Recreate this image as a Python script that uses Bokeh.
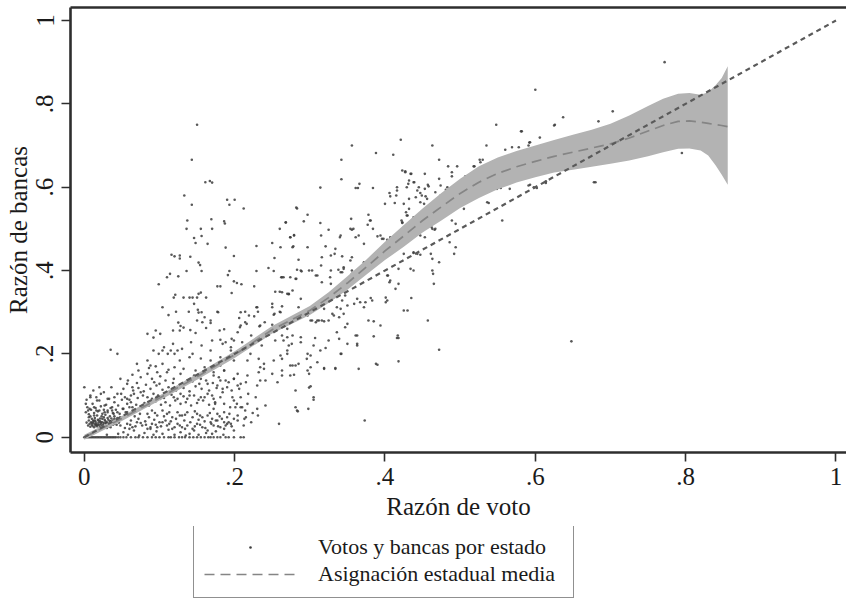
from bokeh.plotting import figure
from bokeh.layouts import column
from bokeh.models import (Range1d, LinearAxis, FixedTicker, Legend, LegendItem,
                          ColumnDataSource, CustomJSTickFormatter)
from bokeh.embed import file_html
from bokeh.resources import INLINE
import numpy as np

# State-level observations, vote share and seat share in thousandths (per mille).
# States that won no seats (seat share = 0)
zero_seat_votes = [0, 2, 4, 6, 8, 10, 12, 14, 16, 18, 20, 22, 24, 26, 28, 30, 32, 34, 36, 38,
                   40, 42, 45, 48, 52, 56, 62, 68, 72, 78, 84, 90, 95, 100, 106, 112, 115, 120,
                   126, 130, 134, 140, 145, 150, 155, 160, 165, 168, 172, 177, 181, 188, 192,
                   199, 208, 212]

# Dense group of small parties close to the origin
origin_cluster = [
    (5, 28), (7, 32), (8, 25), (9, 36), (10, 30), (11, 27), (12, 34), (12, 40), (13, 24), (14, 31),
    (15, 37), (15, 28), (16, 33), (17, 26), (18, 30), (18, 42), (19, 35), (20, 29), (21, 38), (21, 24),
    (22, 32), (23, 27), (24, 36), (24, 44), (25, 30), (26, 34), (27, 26), (28, 39), (29, 31), (30, 36),
    (31, 28), (32, 42), (33, 33), (34, 38), (35, 30), (36, 45), (37, 35), (38, 40), (40, 32), (42, 38),
    (44, 46), (46, 35), (10, 44), (6, 40), (14, 46), (26, 48), (30, 22), (20, 20), (35, 24), (3, 35),
    (8, 50), (17, 52), (28, 54), (40, 50),
    (12, 38), (16, 30), (19, 40), (22, 36), (25, 26), (27, 42), (29, 34), (31, 46), (33, 26), (35, 38),
    (38, 30), (40, 44), (43, 30), (10, 34), (14, 40), (21, 45), (23, 50), (34, 50), (39, 56), (13, 52),
    (6, 48), (5, 64), (16, 64), (27, 60), (37, 64),
    (2, 60), (4, 72), (6, 55), (9, 66), (11, 80), (13, 58), (15, 70), (18, 62), (20, 88), (22, 74),
    (24, 56), (26, 66), (29, 78), (31, 60), (33, 92), (35, 70), (38, 58), (40, 84), (42, 66), (45, 76),
    (47, 56), (50, 90), (52, 68), (55, 60), (57, 80), (60, 72), (62, 100), (3, 90), (8, 100), (16, 96),
    (26, 108), (44, 104), (52, 116), (36, 120), (58, 136), (64, 150), (48, 140), (20, 120), (12, 112),
]

# Low vote shares (below about .22) with low seat shares
low_cloud = [
    (70, 176), (84, 184), (88, 172), (92, 208), (99, 200), (104, 208), (111, 200), (115, 208),
    (120, 200), (124, 208), (127, 184), (140, 192), (144, 200), (155, 189), (168, 184), (181, 192),
    (195, 208), (199, 184), (208, 208), (217, 184),
    (75, 144), (84, 152), (90, 140), (97, 156), (101, 146), (110, 156), (119, 140), (128, 152),
    (137, 136), (146, 148), (155, 140), (164, 128), (172, 148), (181, 136), (190, 120), (199, 140),
    (208, 128), (57, 128), (64, 120), (0, 120), (35, 210), (44, 200),
    (70, 130), (82, 126), (93, 132), (100, 128), (108, 136), (118, 130), (126, 124), (134, 128),
    (144, 134), (153, 128), (162, 136), (171, 130),
    (8, 96), (17, 88), (22, 104), (31, 92), (40, 96), (49, 104), (57, 92), (66, 104),
    (75, 108), (84, 96), (92, 104), (101, 92), (110, 104), (119, 96), (128, 104), (137, 92),
    (146, 100), (155, 96), (164, 104), (172, 92), (181, 96), (199, 88), (208, 96), (217, 80),
    (54, 96), (60, 90), (71, 94), (78, 100), (90, 92), (98, 100), (106, 94), (116, 102), (124, 92),
    (132, 98), (140, 100), (152, 90), (160, 96), (170, 100),
    (2, 80), (7, 68), (13, 72), (20, 64), (27, 76), (31, 64), (37, 72), (44, 60), (51, 68), (57, 60),
    (64, 72), (70, 64), (77, 72), (84, 56), (90, 64), (97, 52), (104, 64), (110, 56), (117, 48),
    (124, 60), (130, 52), (137, 60), (144, 48), (150, 56), (157, 48), (164, 52), (170, 44), (177, 56),
    (183, 44), (190, 48), (199, 44), (208, 72), (215, 48),
    (48, 48), (58, 52), (67, 50), (74, 56), (86, 48), (94, 58), (106, 50), (113, 60), (127, 52),
    (134, 54), (147, 62), (154, 52), (167, 58), (180, 50), (193, 56),
    (57, 32), (64, 24), (70, 36), (77, 28), (84, 20), (90, 32), (97, 24), (104, 36), (110, 28),
    (117, 20), (124, 32), (130, 24), (137, 28), (144, 20), (150, 32), (157, 24), (164, 16), (172, 28),
    (181, 24), (190, 32), (199, 16),
    (48, 28), (54, 22), (61, 30), (68, 26), (75, 34), (82, 30), (88, 24), (95, 30), (102, 26),
    (113, 32), (120, 24), (127, 28), (134, 20), (147, 26), (154, 30), (161, 22), (169, 32), (178, 26),
    (186, 20), (196, 26),
    (52, 12), (66, 16), (80, 10), (96, 14), (112, 18), (128, 12), (146, 16), (162, 10), (175, 14),
    (60, 20), (88, 20), (140, 8),
    (30, 6), (45, 8), (58, 6), (73, 4), (92, 6), (104, 8), (120, 6), (135, 4), (152, 6), (170, 8),
    (185, 6),
    (62, 40), (72, 44), (81, 38), (93, 42), (100, 36), (108, 40), (115, 38), (122, 44), (133, 40),
    (141, 36), (152, 42), (160, 38), (168, 36), (175, 40), (186, 36), (195, 32), (204, 40), (212, 28),
    (222, 36),
    (62, 84), (69, 78), (80, 82), (86, 76), (95, 86), (102, 78), (108, 84), (114, 76), (121, 88),
    (128, 80), (135, 84), (142, 76), (150, 82), (158, 88), (166, 78), (174, 84), (186, 80), (194, 72),
    (203, 80), (214, 64), (224, 58), (231, 52),
    (65, 112), (72, 118), (79, 110), (88, 116), (96, 124), (104, 114), (112, 120), (122, 112),
    (132, 118), (140, 110), (148, 122), (156, 116), (166, 112), (176, 118), (184, 108), (196, 112),
    (206, 116), (218, 104), (228, 96),
    (72, 160), (86, 166), (95, 170), (104, 176), (112, 162), (120, 168), (132, 164), (148, 160),
    (160, 168), (172, 156), (186, 160), (204, 152), (215, 132),
    (172, 168), (181, 172), (186, 160), (179, 144), (188, 136), (177, 124), (184, 116), (192, 132),
    (199, 140), (204, 124), (197, 96), (174, 80), (172, 68), (186, 60), (201, 72), (210, 72),
    (177, 40), (188, 28), (192, 36), (204, 52), (213, 44),
]

# Over-represented states at low vote shares
upper_cloud = [
    (150, 750), (143, 666), (161, 612), (167, 615), (170, 611), (133, 580), (143, 558), (190, 570),
    (200, 570), (193, 558), (212, 549), (283, 549), (137, 520), (136, 500), (155, 500), (169, 523),
    (170, 500), (186, 518), (187, 513), (146, 478), (148, 466), (156, 483), (164, 464), (188, 455),
    (199, 435), (229, 459), (250, 466), (268, 515), (260, 500), (274, 480), (279, 485), (277, 456),
    (253, 430), (116, 438), (120, 434), (127, 436), (127, 429), (141, 433), (152, 419), (154, 413),
    (136, 399), (156, 399), (114, 392), (110, 384), (125, 386), (99, 367), (193, 399), (191, 389),
    (199, 374), (203, 370), (209, 367), (177, 362), (181, 362), (229, 399), (245, 406), (252, 399),
    (226, 362), (262, 384), (265, 384), (282, 380), (254, 349), (260, 349), (272, 343), (196, 346),
    (121, 342), (119, 335), (132, 335), (140, 335), (144, 335), (150, 335), (152, 344), (155, 347),
    (162, 335), (146, 320), (104, 312), (112, 293), (122, 301), (139, 301), (151, 306), (152, 299),
    (156, 300), (160, 288), (168, 280), (168, 274), (177, 301), (150, 280), (157, 276), (125, 275),
    (128, 267), (127, 256), (132, 263), (141, 257), (214, 301), (219, 292), (229, 312), (231, 301),
    (250, 312), (253, 296), (260, 301), (263, 314), (206, 286), (214, 276), (208, 268), (207, 264),
    (233, 266), (250, 270), (180, 256), (186, 259), (84, 248), (92, 239), (95, 256), (101, 248),
    (106, 216), (118, 224), (130, 212), (142, 228), (156, 220), (170, 232), (184, 224), (196, 236),
    (210, 228), (222, 244), (236, 220), (118, 256), (148, 250), (162, 262), (204, 252), (240, 276),
    (226, 290),
]

# Medium vote shares (.2 to .5)
mid_cloud = [
    (178, 300), (208, 300), (230, 312), (250, 320), (261, 300), (252, 294), (216, 272), (234, 268),
    (181, 234), (188, 228), (195, 216), (199, 232), (221, 200), (168, 208), (232, 188), (239, 176),
    (234, 168), (252, 184), (261, 196), (270, 208), (276, 224), (288, 228), (270, 240), (254, 232),
    (297, 200), (301, 196), (307, 238), (314, 208), (321, 214), (297, 160), (301, 168), (310, 180),
    (319, 164), (334, 164), (365, 164), (285, 176), (274, 172), (263, 160), (250, 152), (263, 148),
    (274, 148), (232, 156), (239, 164), (217, 148), (230, 124), (234, 136), (241, 136), (257, 132),
    (281, 112), (299, 119), (301, 122), (305, 90), (230, 68), (241, 76), (281, 72), (283, 64),
    (298, 68), (259, 32), (373, 40), (341, 200), (336, 252), (347, 264), (350, 272), (361, 244),
    (363, 224), (350, 224), (325, 232), (385, 242), (388, 176), (378, 280), (385, 278), (394, 268),
    (416, 238), (418, 182), (425, 304), (430, 304), (401, 324), (374, 324), (359, 320), (350, 316),
    (336, 312), (332, 292), (325, 280), (312, 280), (301, 280), (297, 292),
    (356, 700), (421, 714), (463, 700), (388, 682), (411, 678), (342, 666), (472, 666), (342, 619),
    (366, 608), (361, 598), (364, 598), (314, 599), (384, 598), (423, 640), (427, 638), (435, 632),
    (453, 632), (431, 608), (439, 612), (457, 606), (416, 600), (416, 592), (406, 586), (407, 578),
    (443, 592), (447, 586), (467, 588), (454, 578), (432, 572), (415, 580), (413, 562), (400, 560),
    (474, 604), (428, 540), (430, 532), (438, 528), (436, 516), (462, 504), (466, 498), (453, 480),
    (422, 520), (423, 514), (390, 482), (398, 476), (403, 474), (407, 480), (378, 534), (380, 520),
    (377, 510), (384, 500), (355, 524), (356, 498), (365, 484), (361, 480), (372, 464), (282, 551),
    (297, 534), (268, 516), (292, 518), (314, 514), (325, 498), (315, 484), (340, 480), (279, 484),
    (274, 480), (278, 458), (285, 426), (321, 458), (334, 452), (333, 440), (354, 424), (372, 420),
    (382, 432), (338, 402), (343, 396), (345, 408), (356, 392), (327, 384), (328, 368), (316, 372),
    (308, 388), (289, 398), (281, 380), (403, 388), (407, 376), (414, 356), (418, 368), (374, 408),
    (363, 332), (372, 312), (341, 308), (345, 296), (339, 288), (319, 308), (330, 296), (316, 280),
    (303, 280), (457, 280), (417, 244), (363, 244), (272, 344), (288, 332), (285, 312), (277, 244),
    (288, 240), (283, 402), (472, 210), (418, 238), (390, 174), (342, 200), (334, 166), (319, 166),
    (305, 96), (284, 62), (279, 150), (299, 152), (263, 188), (270, 200), (277, 172), (281, 172),
    (305, 220), (339, 236), (363, 220), (296, 188), (435, 334), (401, 335), (403, 328), (463, 400),
    (464, 392), (465, 368), (472, 420), (461, 440), (447, 438), (438, 442), (425, 440), (434, 404),
    (438, 400), (418, 404), (406, 372), (404, 388), (367, 324), (347, 340), (343, 328), (356, 400),
    (345, 404), (341, 396), (328, 400), (315, 412), (310, 388), (274, 384), (263, 384), (288, 400),
    (299, 400), (303, 400), (316, 432), (328, 436), (343, 434), (356, 432), (270, 344), (263, 348),
    (277, 352), (310, 280), (319, 278), (308, 276), (270, 260), (263, 244), (265, 232), (272, 220),
    (381, 334), (383, 328), (648, 230), (261, 456), (297, 456), (394, 484), (396, 476), (405, 464),
    (341, 484), (354, 500), (358, 500), (381, 520),
]

# Large parties (vote share above about .45)
high_share = [
    (600, 834), (637, 768), (626, 750), (548, 750), (581, 734), (606, 719), (592, 707), (591, 700),
    (535, 700), (560, 690), (578, 696), (684, 758), (526, 666), (530, 666), (518, 650), (526, 640),
    (489, 636), (489, 626), (507, 626), (554, 598), (549, 596), (566, 596), (591, 604), (598, 600),
    (602, 598), (614, 610), (678, 612), (538, 562), (505, 548), (556, 520), (489, 520), (494, 512),
    (463, 500), (467, 500), (486, 468), (492, 440), (494, 456), (438, 444), (443, 440), (463, 428),
    (472, 620), (474, 580), (467, 552), (458, 602), (453, 596), (449, 580), (438, 612), (445, 600),
    (441, 576), (447, 564), (452, 560), (456, 572), (427, 636), (434, 632), (432, 616), (429, 600),
    (425, 560), (432, 548), (429, 532), (423, 516), (427, 504), (443, 496), (447, 484), (483, 600),
    (481, 594), (503, 560), (496, 560), (534, 648), (527, 660), (625, 748), (582, 734), (593, 708),
    (569, 696), (536, 564), (593, 606), (614, 614), (772, 900), (703, 782), (795, 682), (680, 612),
    (484, 650), (496, 650), (519, 650),
]

# Local polynomial fit of seat share on vote share, with its confidence band
fit_x = [0, .05, .10, .15, .20, .25, .30, .325, .35, .375, .40, .425, .45, .475, .50, .525, .55,
         .575, .60, .625, .65, .675, .70, .725, .75, .77, .79, .805, .82, .83, .84, .848, .856]
fit_mean = [0, .045, .094, .145, .198, .258, .304, .335, .370, .408, .447, .483, .520, .553, .585,
            .612, .633, .649, .662, .674, .684, .694, .704, .718, .735, .748, .758, .759, .756,
            .753, .750, .748, .745]
fit_hi = [.006, .051, .100, .152, .206, .267, .315, .348, .386, .426, .469, .509, .549, .586, .620,
          .650, .671, .687, .700, .713, .726, .738, .752, .772, .795, .812, .824, .826, .822, .828,
          .845, .862, .890]
fit_lo = [-.006, .039, .088, .138, .190, .249, .293, .322, .354, .390, .425, .457, .491, .520, .550,
          .574, .595, .611, .624, .635, .642, .649, .656, .664, .674, .684, .692, .693, .688, .676,
          .652, .630, .606]

# Proportionality reference line (seats = votes)
diag_x = [0, 1]
diag_y = [0, 1]

ticks = [0, .2, .4, .6, .8, 1]

points = ([(v, 0) for v in zero_seat_votes] + origin_cluster + low_cloud +
          upper_cloud + mid_cloud + high_share)
pts = np.array(points, dtype=float) / 1000.0
scatter_src = ColumnDataSource(data=dict(x=pts[:, 0], y=pts[:, 1]))
fit_src = ColumnDataSource(data=dict(x=fit_x, mean=fit_mean, lo=fit_lo, hi=fit_hi))

FONT = "Liberation Serif"
INK = "#1a1a1a"
AXIS = "#2e2e2e"
DOT_COLOR = "#3c3c3c"
MEAN = dict(line_color="#858585", line_width=1.7, line_dash="10 6")

p = figure(frame_width=776, frame_height=445,
           x_range=Range1d(-0.0184, 1.014), y_range=Range1d(-0.0367, 1.0312),
           output_backend="svg", toolbar_location=None,
           min_border_left=70, min_border_right=0, min_border_top=7, min_border_bottom=74,
           background_fill_color="white", border_fill_color="white")
p.outline_line_color = None
p.grid.visible = False

fmt = CustomJSTickFormatter(code="""
    if (Math.abs(tick) < 1e-9) return "0";
    if (Math.abs(tick - 1) < 1e-9) return "1";
    return tick.toFixed(1).replace(/^0/, "");
""")

for ax in (p.xaxis[0], p.yaxis[0]):
    ax.ticker = FixedTicker(ticks=ticks)
    ax.formatter = fmt
    ax.axis_line_width = 2.6
    ax.axis_line_color = AXIS
    ax.major_tick_line_color = AXIS
    ax.major_tick_line_width = 1.6
    ax.major_tick_in = 0
    ax.major_tick_out = 9
    ax.minor_tick_line_color = None
    ax.major_label_text_font = FONT
    ax.major_label_text_font_size = "25px"
    ax.major_label_text_color = INK
    ax.axis_label_text_font = FONT
    ax.axis_label_text_font_size = "25px"
    ax.axis_label_text_font_style = "normal"
    ax.axis_label_text_color = INK

p.xaxis[0].axis_label = "Razón de voto"
p.xaxis[0].major_label_standoff = 6
p.xaxis[0].axis_label_standoff = 5
p.yaxis[0].axis_label = "Razón de bancas"
p.yaxis[0].major_label_orientation = "vertical"
p.yaxis[0].major_label_standoff = 8
p.yaxis[0].axis_label_standoff = 2

# plain line along the top of the plot region
top = LinearAxis(ticker=FixedTicker(ticks=[]), axis_line_width=2.6, axis_line_color=AXIS,
                 major_tick_out=0, major_tick_in=0, minor_tick_out=0, minor_tick_in=0,
                 major_label_text_font_size="0px")
p.add_layout(top, "above")

p.scatter("x", "y", source=scatter_src, marker="circle", size=2.6, fill_color=DOT_COLOR,
          line_color=None, fill_alpha=0.85)
p.varea(x="x", y1="lo", y2="hi", source=fit_src, fill_color="#b3b3b3")
p.line("x", "mean", source=fit_src, **MEAN)
p.line(diag_x, diag_y, line_color="#5a5a5a", line_width=2.2, line_dash="5 4")

# legend strip under the chart: its key renderers reuse the chart's sources and styles,
# with a view window that lies beyond the data so only the legend itself shows
key = figure(width=846, height=74, x_range=Range1d(2, 3), y_range=Range1d(2, 3),
             output_backend="svg", toolbar_location=None,
             x_axis_location=None, y_axis_location=None, min_border=0,
             background_fill_color="white", border_fill_color="white")
key.outline_line_color = None
key.grid.visible = False
# "dot" keeps the legend key a small point, like the chart's markers
key_dot = key.scatter("x", "y", source=scatter_src, marker="dot", size=2.6,
                      line_color=DOT_COLOR, fill_color=DOT_COLOR)
key_mean = key.line("x", "mean", source=fit_src, **MEAN)

legend = Legend(items=[LegendItem(label="Votos y bancas por estado", renderers=[key_dot]),
                       LegendItem(label="Asignación estadual media", renderers=[key_mean])],
                location=(123, 2), orientation="vertical",
                border_line_color="#222222", border_line_width=1.6,
                background_fill_color="white", background_fill_alpha=1.0,
                label_text_font=FONT, label_text_font_size="22px", label_text_color=INK,
                glyph_width=92, glyph_height=26, label_height=26, label_standoff=22,
                label_width=245, padding=10, spacing=1, margin=0)
key.add_layout(legend, "center")

page = column(p, key, spacing=0)
open("out.html", "w").write(file_html(page, INLINE))
